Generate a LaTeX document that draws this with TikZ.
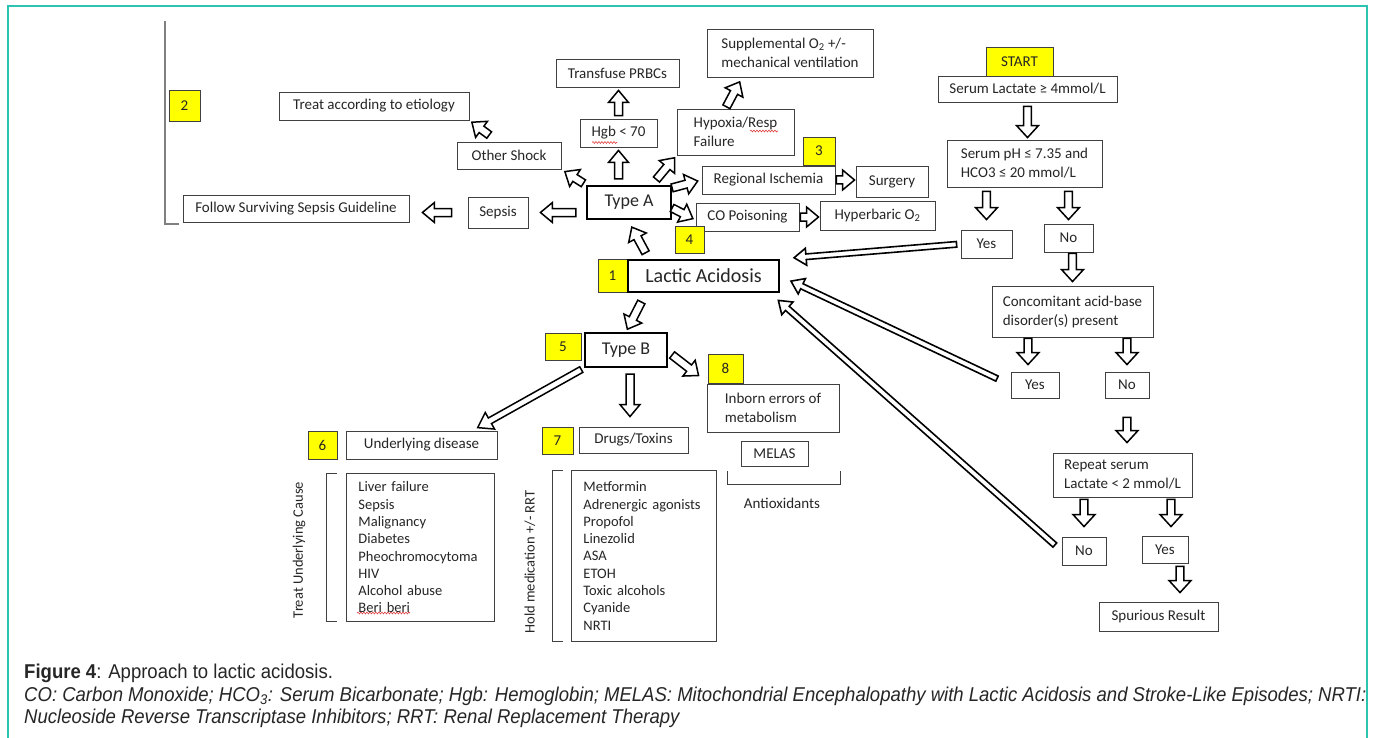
\documentclass[tikz,border=0pt]{standalone}
\usepackage{fontspec}
\setmainfont{Carlito}
\newfontfamily\capfont[FakeStretch=0.927]{Liberation Sans}
\usetikzlibrary{calc,decorations.pathmorphing}
\definecolor{frame}{HTML}{2CC4B0}
\definecolor{bx}{HTML}{404040}
\definecolor{tx}{HTML}{262626}
\definecolor{ylw}{HTML}{FFFF00}
\definecolor{brk}{HTML}{808080}
\definecolor{spell}{HTML}{E04040}
\tikzset{
  ash/.store in=\ash, ahw/.store in=\ahw, ahl/.store in=\ahl,
  ags/.store in=\ags, age/.store in=\age,
  ash=4, ahw=10, ahl=12, ags=0, age=0,
  blk/.style={draw=black, fill=white, line width=1.5pt, line join=miter,
    to path={let \p1=(\tikztostart), \p2=(\tikztotarget),
      \n1={veclen(\x2-\x1,\y2-\y1)}, \n2={atan2(\y2-\y1,\x2-\x1)} in
      ($(\p1)+(\n2:\ags)+(\n2+90:\ash)$) --
      ($(\p1)+(\n2:\n1-\age-\ahl)+(\n2+90:\ash)$) --
      ($(\p1)+(\n2:\n1-\age-\ahl)+(\n2+90:\ahw)$) --
      ($(\p1)+(\n2:\n1-\age)$) --
      ($(\p1)+(\n2:\n1-\age-\ahl)+(\n2-90:\ahw)$) --
      ($(\p1)+(\n2:\n1-\age-\ahl)+(\n2-90:\ash)$) --
      ($(\p1)+(\n2:\ags)+(\n2-90:\ash)$) -- cycle}},
  vblk/.style={blk, ash=3.8, ahw=11, ahl=12},
  lblk/.style={blk, ash=2.8, ahw=8.5, ahl=12, line width=1.6pt},
  sz/.style 2 args={minimum width=#1pt, minimum height=#2pt},
  box/.style={draw=bx, line width=0.9pt, text=tx, inner sep=0pt,
    font=\fontsize{15}{19}\selectfont},
  lbox/.style={box, align=left},
  tbox/.style={draw=black, line width=2.2pt, text=tx, inner sep=0pt},
  num/.style={draw=bx, line width=0.9pt, fill=ylw, text=tx, inner sep=0pt,
    font=\fontsize{15}{19}\selectfont},
  lab/.style={text=tx, inner sep=0pt, font=\fontsize{15}{19}\selectfont},
  captext/.style={anchor=base west, text=tx, inner sep=0pt,
    font=\capfont\fontsize{20}{23}\selectfont},
  squig/.style={draw=spell, line width=0.6pt,
    decorate, decoration={snake, amplitude=0.9pt, segment length=3pt}}
}
\begin{document}
\begin{tikzpicture}[x=1pt,y=1pt]
\useasboundingbox (0,0) rectangle (1375,-738);
\fill[white] (0,0) rectangle (1375,-738);
\draw[frame, line width=1.6pt] (8,-738) -- (8,-6) -- (1367,-6) -- (1367,-738);

% left part
\node[num, sz={31}{31}] (n2) at (184.5,-105.5) {2};
\draw[brk, line width=1.5pt] (179,-224) -- (165,-224) -- (165,-21);
\node[box, sz={190}{28}] (treat) at (374,-106) {Treat according to etiology};
\node[box, sz={104}{27}] (oshock) at (509,-155.5) {Other Shock};
\node[box, sz={226}{27}] (follow) at (296,-208.5) {Follow Surviving Sepsis Guideline};
\node[box, sz={60}{31}] (sepsis) at (498,-212.5) {Sepsis};

% type A cluster
\node[box, sz={123}{28}] (transf) at (617.5,-73) {Transfuse PRBCs};
\node[lbox, sz={166}{48}] (suppl) at (790,-53) {Supplemental O\textsubscript{2} +/-\\mechanical ventilation};
\node[box, sz={77}{28}] (hgb) at (618.5,-133) {Hgb < 70};
\node[lbox, sz={117}{46}] (hypox) at (735.5,-132) {Hypoxia/Resp\\Failure};
\node[num, sz={32}{28}] (n3) at (819,-151) {3};
\node[box, sz={133}{28}] (regis) at (768.5,-180) {Regional Ischemia};
\node[box, sz={72}{31}] (surg) at (892,-181.5) {Surgery};
\node[tbox, sz={84}{33}, font=\fontsize{18}{21}\selectfont] (typeA) at (629,-202.5) {Type A};
\node[box, sz={103}{28}] (copois) at (747.5,-217) {CO Poisoning};
\node[box, sz={115}{29}] (hyper) at (877.5,-215.5) {Hyperbaric O\textsubscript{2}};
\node[num, sz={29}{27}] (n4) at (689.5,-239.5) {4};

% centre
\node[num, sz={29}{33}] (n1) at (612.5,-275.5) {1};
\node[tbox, sz={151}{32}, font=\fontsize{20}{24}\selectfont] (lactic) at (703.5,-276) {Lactic Acidosis};
\node[num, sz={36}{27}] (n5) at (563,-346.5) {5};
\node[tbox, sz={82}{34}, font=\fontsize{18}{21}\selectfont] (typeB) at (626,-350) {Type B};
\node[num, sz={35}{29}] (n8) at (725.5,-368.5) {8};
\node[lbox, sz={132}{48}] (inborn) at (773,-408) {Inborn errors of\\metabolism};
\node[box, sz={67}{25}] (melas) at (774.5,-453.5) {MELAS};
\draw[bx, line width=0.9pt] (727,-471) -- (727,-484) -- (840,-484) -- (840,-471);
\node[lab] (antiox) at (782,-503) {Antioxidants};

% type B lower
\node[num, sz={29}{28}] (n6) at (322.5,-445) {6};
\node[box, sz={151}{28}] (under) at (421.5,-445) {Underlying disease};
\node[num, sz={31}{27}] (n7) at (557.5,-440.5) {7};
\node[box, sz={109}{26}] (drugs) at (633.5,-440) {Drugs/Toxins};
\node[lbox, anchor=north west, sz={148}{148}, text width=124pt,
  font=\fontsize{14.5}{17.3}\selectfont] (list1) at (346,-473)
  {Liver failure\\Sepsis\\Malignancy\\Diabetes\\Pheochromocytoma\\HIV\\Alcohol abuse\\Beri beri};
\node[lbox, anchor=north west, sz={145}{171}, text width=121pt,
  font=\fontsize{14.5}{17.3}\selectfont] (list2) at (571,-470)
  {Metformin\\Adrenergic agonists\\Propofol\\Linezolid\\ASA\\ETOH\\Toxic alcohols\\Cyanide\\NRTI};
\draw[bx, line width=0.9pt] (337,-473) -- (326,-473) -- (326,-621) -- (337,-621);
\draw[bx, line width=0.9pt] (563,-470) -- (552,-470) -- (552,-641) -- (563,-641);
\node[lab, rotate=90, font=\fontsize{14.5}{17}\selectfont] (tuc) at (299,-550) {Treat Underlying Cause};
\node[lab, rotate=90, font=\fontsize{14.5}{17}\selectfont] (hold) at (530,-562) {Hold medication +/- RRT};

% spell-check marks
\draw[squig] (592,-142.5) -- (617,-142.5);
\draw[squig] (750,-131) -- (778,-131);
\draw[squig] (357,-613) -- (410,-613);

% right column
\node[num, sz={67}{29}] (start) at (1019.5,-61.5) {START};
\node[box, sz={179}{26}] (lact4) at (1027.5,-89) {Serum Lactate ≥ 4mmol/L};
\node[lbox, sz={155}{47}] (ph) at (1024.5,-163.5) {Serum pH ≤ 7.35 and\\HCO3 ≤ 20 mmol/L};
\node[box, sz={51}{28}] (yes1) at (986.5,-244) {Yes};
\node[box, sz={49}{28}] (no1) at (1068.5,-238) {No};
\node[lbox, sz={161}{51}] (conc) at (1072.5,-311.5) {Concomitant acid-base\\disorder(s) present};
\node[box, sz={48}{26}] (yes2) at (1035,-385) {Yes};
\node[box, sz={44}{26}] (no2) at (1127,-385) {No};
\node[lbox, sz={139}{44}] (repeat) at (1122.5,-475) {Repeat serum\\Lactate < 2 mmol/L};
\node[box, sz={44}{28}] (no3) at (1084,-551) {No};
\node[box, sz={46}{27}] (yes3) at (1165,-549.5) {Yes};
\node[box, sz={119}{29}] (spur) at (1158.5,-616.5) {Spurious Result};

% arrows: type A cluster
\draw[blk, ags=10, age=12] (typeA.west |- sepsis.east) to (sepsis.east);
\draw[blk, ags=16, age=13] (sepsis.west) to (follow.east |- sepsis.west);
\draw[blk, ags=3, age=4] (typeA.north west) to (oshock.south east);
\draw[blk, ags=11, age=3] ($(oshock.north)+(-11,0)$) to (treat.south east);
\draw[blk, ags=6, age=3] (hgb.south |- typeA.north) to (hgb.south);
\draw[blk, ags=3, age=3] (hgb.north) to (hgb.north |- transf.south);
\draw[blk, ags=7, age=3] ($(typeA.north)+(23,0)$) to (hypox.south west);
\draw[blk, ags=2, age=5] ($(hypox.north)+(-10,0)$) to ($(suppl.south)+(-48,0)$);
\draw[blk, ags=0, age=4] ($(typeA.north east)+(0,-3)$) to (regis.west);
\draw[blk, ags=0, age=3] ($(typeA.east)+(0,-5.5)$) to ($(copois.west)+(0,-3)$);
\draw[blk, ags=1, age=1] (regis.east) to (surg.west |- regis.east);
\draw[blk, ags=1, age=1] (copois.east) to (hyper.west |- copois.east);

% lactic
\draw[blk, ags=7, age=8] ($(lactic.north west)+(22,0)$) to ($(typeA.south)+(-1,0)$);
\draw[blk, ags=10, age=3] ($(lactic.south west)+(19,0)$) to (typeB.north);
\draw[blk] ($(typeB.east)+(4,-5)$) to ($(n8.west)+(-9,-7)$);
\draw[blk, ags=6, age=10] ($(typeB.south)+(4,0)$) to ($(drugs.north)+(-3.5,0)$);
\draw[blk, ash=3.2, ahw=9.5, ahl=14, ags=3, age=6] (typeB.south west) to ($(under.north east)+(-25,0)$);

% right column
\draw[vblk, ags=4, age=2] (lact4.south) to (ph.north -| lact4.south);
\draw[vblk, ags=4, age=10] (yes1.north |- ph.south) to (yes1.north);
\draw[vblk, ags=4, age=4] (no1.north |- ph.south) to (no1.north);
\draw[vblk, ags=1, age=4] (conc.north |- no1.south) to (conc.north);
\draw[vblk, ags=1, age=7] ($(yes2.north |- conc.south)+(-7,0)$) to ($(yes2.north)+(-7,0)$);
\draw[vblk, ags=1, age=7] (no2.north |- conc.south) to (no2.north);
\draw[vblk, ags=19, age=10] (no2.south) to (repeat.north -| no2.south);
\draw[vblk, ags=2, age=10] (no3.north |- repeat.south) to (no3.north);
\draw[vblk, ags=2, age=9] ($(yes3.north |- repeat.south)+(6,0)$) to ($(yes3.north)+(6,0)$);
\draw[vblk, ags=3, age=9] ($(yes3.south)+(15,0)$) to ($(spur.north)+(21.5,0)$);

% long return arrows
\draw[lblk, ags=4, age=14] (yes1.west) to (lactic.north east);
\draw[lblk, ags=15, age=12] (yes2.west) to (lactic.east);
\draw[lblk, ags=9, age=11] (no3.west) to ($(lactic.south east)+(-10,0)$);

% caption
\node[captext] (cap1) at (24,-678) {\textbf{Figure 4}: Approach to lactic acidosis.};
\node[captext] (cap2) at (24,-701) {\itshape CO: Carbon Monoxide; HCO\textsubscript{3}: Serum Bicarbonate; Hgb: Hemoglobin; MELAS: Mitochondrial Encephalopathy with Lactic Acidosis and Stroke-Like Episodes; NRTI:};
\node[captext] (cap3) at (24,-723) {\itshape Nucleoside Reverse Transcriptase Inhibitors; RRT: Renal Replacement Therapy};
\end{tikzpicture}
\end{document}
